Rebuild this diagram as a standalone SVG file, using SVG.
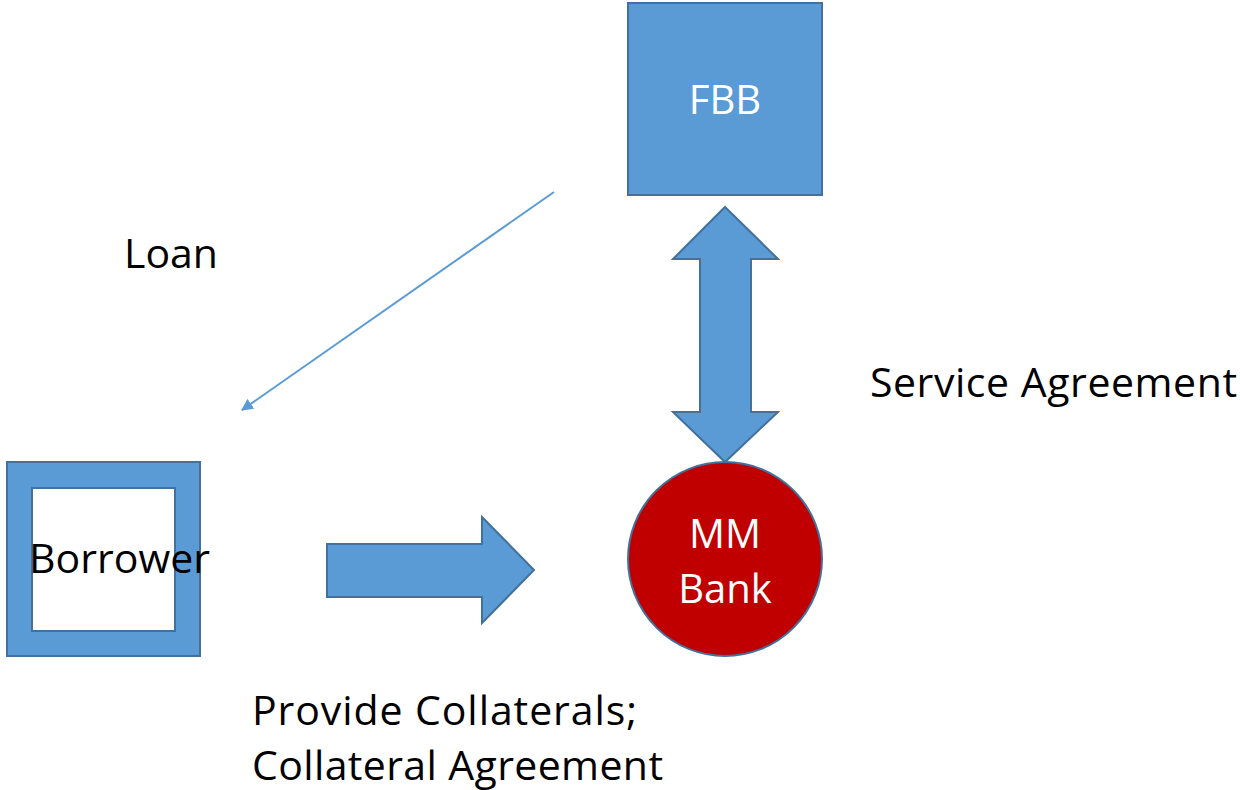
<svg xmlns="http://www.w3.org/2000/svg" width="1240" height="790" viewBox="0 0 1240 790">
<style>
.shape{fill:#5B9BD5;stroke:#41719C;stroke-width:2}
.lbl{font-family:"Open Sans","Liberation Sans",sans-serif;font-size:41px;fill:#000}
.wlbl{font-family:"Open Sans","Liberation Sans",sans-serif;font-size:40px;fill:#fff;text-anchor:middle}
</style>
<defs>
<marker id="ah" viewBox="0 0 10 10" refX="9" refY="5" markerWidth="6" markerHeight="6" orient="auto" markerUnits="strokeWidth">
<path d="M0,0 L10,5 L0,10 z" fill="#5B9BD5"/>
</marker>
</defs>
<rect width="1240" height="790" fill="#fff"/>
<g id="fbb">
<rect class="shape" x="628" y="3" width="194" height="192"/>
<text class="wlbl" x="725" y="114">FBB</text>
</g>
<g id="borrower">
<path class="shape" fill-rule="evenodd" d="M7,462 H200 V656 H7 Z M32,488 V631 H175 V488 Z"/>
<text class="lbl" x="29" y="573" textLength="181">Borrower</text>
</g>
<g id="mmbank">
<circle cx="725" cy="559" r="97" fill="#C00000" stroke="#41719C" stroke-width="2"/>
<text class="wlbl" x="725" y="548">MM</text>
<text class="wlbl" x="725" y="603">Bank</text>
</g>
<g id="connectors">
<line x1="554" y1="192" x2="242" y2="410" stroke="#5B9BD5" stroke-width="2" marker-end="url(#ah)"/>
<path class="shape" d="M725,207 L778,259 L751,259 L751,412 L778,412 L725,462 L673,412 L700,412 L700,259 L673,259 Z"/>
<path class="shape" d="M327,544 L482,544 L482,517 L534,570 L482,623 L482,597 L327,597 Z"/>
</g>
<g id="labels">
<text class="lbl" x="124" y="268">Loan</text>
<text class="lbl" x="870" y="397" textLength="367">Service Agreement</text>
<text class="lbl" x="252" y="725" textLength="385">Provide Collaterals;</text>
<text class="lbl" x="252" y="780" textLength="411">Collateral Agreement</text>
</g>
</svg>
